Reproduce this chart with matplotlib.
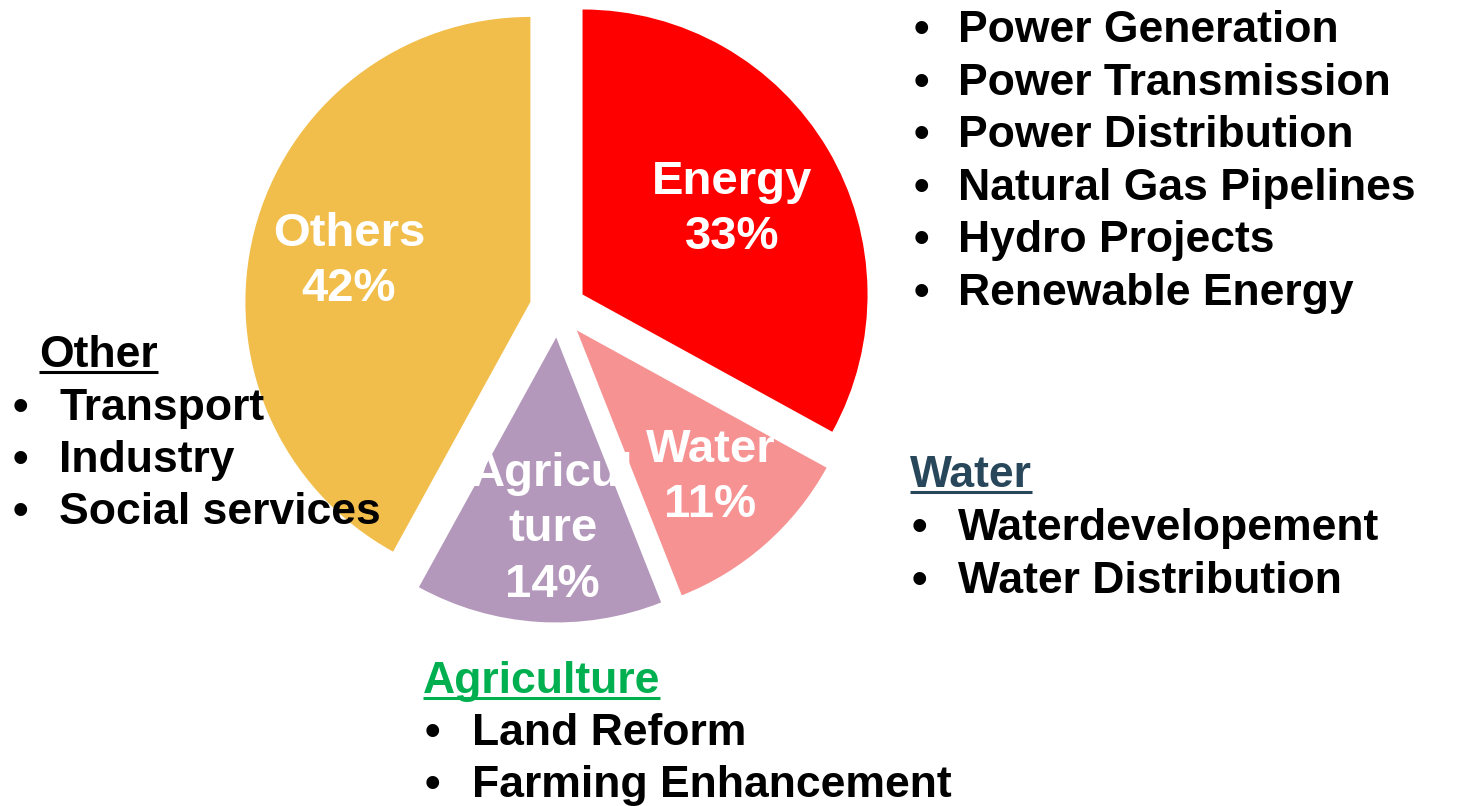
import matplotlib.pyplot as plt

# pie data
sectors = ["Energy", "Water", "Agricul\nture", "Others"]
shares = [33, 11, 14, 42]
colors = ["#FF0000", "#F69292", "#B398BB", "#F2BE4B"]

# side lists
energy_items = ["Power Generation", "Power Transmission", "Power Distribution",
                "Natural Gas Pipelines", "Hydro Projects", "Renewable Energy"]
water_items = ["Waterdevelopement", "Water Distribution"]
agri_items = ["Land Reform", "Farming Enhancement"]
other_items = ["Transport", "Industry", "Social services"]

W, H = 1460, 806
FONT = "Liberation Sans"

fig = plt.figure(figsize=(14.6, 8.06), dpi=100)
ax = fig.add_axes([0, 0, 1, 1])

# explode is in data units here (1 unit = 1 px)
wedges, texts, autotexts = ax.pie(
    shares, colors=colors, explode=[28.5] * len(shares), startangle=90,
    counterclock=False, center=(558, H - 309), radius=285,
    autopct="%.0f%%", pctdistance=0.65,
    wedgeprops=dict(linewidth=0),
    textprops=dict(color="white", fontsize=34, fontweight="bold", family=FONT))

# small manual nudges of the slice labels (px: right, down)
nudges = [(-10, 9), (11, 8), (8, 7), (-2, 6)]
for t, name, (dx, dy) in zip(autotexts, sectors, nudges):
    t.set_text(name + "\n" + t.get_text())
    t.set_linespacing(1.33)
    x, y = t.get_position()
    t.set_position((x + dx, y - dy))

ax.set_xlim(0, W)
ax.set_ylim(0, H)
ax.set_aspect("equal")
ax.axis("off")


def bullet_list(items, x_bullet, x_text, y_first, step=52.6):
    for i, item in enumerate(items):
        y = H - (y_first + i * step)
        ax.text(x_bullet, y, "\u2022", ha="center", va="baseline",
                fontsize=32, fontweight="bold", family=FONT)
        ax.text(x_text, y, item, ha="left", va="baseline",
                fontsize=32, fontweight="bold", family=FONT)


headers = []


def header(label, x, y, color):
    t = ax.text(x, H - y, label, ha="left", va="baseline", fontsize=32,
                fontweight="bold", family=FONT, color=color)
    headers.append((t, y, color))


bullet_list(energy_items, 921, 958, 42)

header("Water", 910, 487, "#28475B")
bullet_list(water_items, 919, 958, 540)

header("Other", 39, 367, "black")
bullet_list(other_items, 20, 59, 420, step=52)

header("Agriculture", 423, 693, "#00B050")
bullet_list(agri_items, 432, 472, 745, step=52)

# underline the headers
fig.canvas.draw()
for t, y, color in headers:
    bb = t.get_window_extent()
    ax.plot([bb.x0, bb.x1], [H - y - 5, H - y - 5], color=color, lw=2.2,
            solid_capstyle="butt")

fig.savefig("out.png", dpi=100)
